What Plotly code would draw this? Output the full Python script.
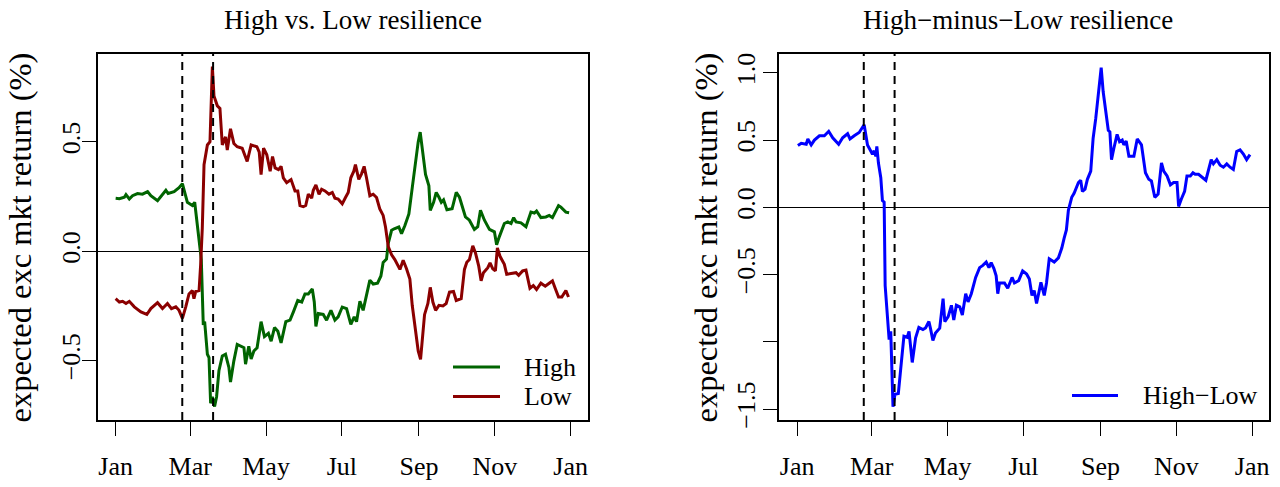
import pandas as pd
import plotly.graph_objects as go

BASE = pd.Timestamp("2020-01-01")

# ---- data (days since 2020-01-01, expected excess market return in %) ----
high_days = [0, 3, 7, 8.3, 11, 13.6, 17.6, 21.6, 25.7, 28.3, 33.7, 37.7, 40.4, 42.2, 47, 51, 53.7,
             57.7, 61.7, 63.6, 64.4, 67.1, 68.9, 70.5, 71.6, 73.8, 75.1, 76.4, 77.8, 79.6, 81.2,
             83.1, 85.8, 88.4, 91.1, 92.4, 95.1, 97.8, 100.5, 103.2, 104.5, 107.1, 109, 111.2,
             113.8, 117, 119.7, 122.9, 125.1, 127.8, 130.5, 133.1, 136.9, 140.3, 143, 146.5,
             149.7, 152.3, 155, 158.2, 159.8, 161.1, 163, 167, 169.7, 173.2, 176.4, 179, 182.3,
             185.8, 189.2, 191.9, 193.8, 196.5, 199.1, 201.8, 204.5, 207.2, 210.7, 213.4, 215.2,
             217.9, 219.3, 222, 224.1, 227.8, 230, 232.7, 235.9, 238.6, 241.3, 243.4, 245,
             246.7, 249.3, 252, 253.1, 255.8, 257.9, 260.1, 262, 263.8, 266.5, 270.7, 274,
             276.6, 279.3, 281.4, 284.6, 288.6, 291.3, 293.5, 296.7, 300.7, 304.7, 306.5, 308.7,
             312.7, 315.4, 318.1, 320.2, 322.1, 326.1, 330.1, 334.1, 336.8, 338.6, 342.1, 346.1,
             348.8, 351.4, 354.1, 356.3, 358.2, 362.2, 364.8]
high_vals = [0.242, 0.240, 0.247, 0.259, 0.239, 0.254, 0.264, 0.261, 0.273, 0.254, 0.231, 0.261,
             0.279, 0.264, 0.273, 0.291, 0.309, 0.224, 0.209, 0.224, 0.187, 0.067, -0.037, -0.337,
             -0.322, -0.471, -0.486, -0.695, -0.665, -0.710, -0.665, -0.546, -0.479, -0.471,
             -0.531, -0.598, -0.501, -0.426, -0.434, -0.441, -0.516, -0.434, -0.493, -0.456,
             -0.441, -0.322, -0.390, -0.375, -0.411, -0.349, -0.366, -0.419, -0.322, -0.315,
             -0.277, -0.225, -0.232, -0.195, -0.195, -0.172, -0.232, -0.344, -0.285, -0.289,
             -0.315, -0.270, -0.315, -0.300, -0.255, -0.262, -0.334, -0.300, -0.322, -0.229,
             -0.270, -0.195, -0.132, -0.150, -0.146, -0.113, -0.051, -0.036, 0.036, 0.096, 0.103,
             0.111, 0.081, 0.118, 0.171, 0.290, 0.410, 0.500, 0.545, 0.471, 0.351, 0.299, 0.187,
             0.224, 0.269, 0.247, 0.224, 0.235, 0.190, 0.195, 0.269, 0.247, 0.202, 0.157, 0.142,
             0.100, 0.112, 0.187, 0.142, 0.100, 0.089, 0.030, 0.067, 0.127, 0.134, 0.127, 0.154,
             0.134, 0.130, 0.112, 0.179, 0.175, 0.184, 0.154, 0.157, 0.164, 0.154, 0.187, 0.209,
             0.202, 0.179, 0.176]

low_days = [0, 3, 5.6, 8.3, 11, 15, 20.3, 25.1, 28.3, 33.7, 37.7, 41.7, 44.9, 48.4, 51, 53.7,
            56.4, 59, 61.7, 63, 64.4, 67.1, 68.4, 69.7, 71.1, 73.8, 75.9, 77.8, 79.1, 81.8, 83.9,
            85.8, 88.4, 89.8, 92.4, 95.1, 97.8, 101.8, 105.8, 109, 113.6, 115.5, 117, 119, 121.6,
            124.3, 126.2, 128.3, 131, 133.1, 134.9, 137.6, 141.1, 144.3, 146.5, 148.3, 151,
            152.9, 155, 157.7, 159, 161.1, 163.6, 165.7, 168.4, 171.6, 174.3, 176.4, 179, 182.3,
            184.9, 187.1, 189.2, 191.6, 192.9, 195.6, 197.8, 199.9, 201.8, 204.5, 207.2, 209.9,
            212.5, 215.2, 217.1, 219.3, 222, 224.6, 228.7, 231.3, 234, 236.7, 238.6, 240.7,
            243.4, 245.3, 246.5, 248.5, 251.2, 253.1, 255.2, 257.4, 260.1, 263.3, 265.9, 268.6,
            271.8, 274, 278, 280.6, 282.5, 284.6, 287.3, 289.5, 292.1, 294, 295.9, 299.4, 301.2,
            303.4, 305.5, 307.1, 309.2, 312.7, 314.6, 318.1, 322.1, 324.2, 327.4, 330.1, 333.3,
            336, 338.6, 342.1, 345.6, 348.8, 351.4, 353.6, 356.3, 358.9, 362.2, 364.3]
low_vals = [-0.217, -0.232, -0.229, -0.239, -0.229, -0.254, -0.277, -0.289, -0.262, -0.235,
            -0.262, -0.239, -0.262, -0.254, -0.270, -0.307, -0.254, -0.195, -0.180, -0.217,
            -0.184, -0.180, -0.060, 0.105, 0.396, 0.486, 0.501, 0.845, 0.710, 0.665, 0.653,
            0.486, 0.523, 0.463, 0.560, 0.493, 0.478, 0.471, 0.411, 0.486, 0.478, 0.453, 0.351,
            0.471, 0.441, 0.366, 0.433, 0.381, 0.373, 0.388, 0.336, 0.314, 0.328, 0.276, 0.276,
            0.209, 0.204, 0.209, 0.261, 0.243, 0.279, 0.303, 0.261, 0.284, 0.276, 0.261, 0.269,
            0.243, 0.239, 0.217, 0.246, 0.269, 0.336, 0.366, 0.396, 0.329, 0.354, 0.388, 0.336,
            0.254, 0.261, 0.246, 0.194, 0.164, 0.111, 0.022, -0.016, -0.038, -0.083, -0.041,
            -0.080, -0.127, -0.247, -0.337, -0.456, -0.494, -0.400, -0.290, -0.239, -0.165,
            -0.232, -0.270, -0.247, -0.250, -0.239, -0.187, -0.184, -0.225, -0.217, -0.083,
            -0.050, -0.038, 0.025, -0.008, -0.068, -0.135, -0.098, -0.075, -0.053, -0.080,
            -0.090, 0.015, -0.023, -0.060, -0.105, -0.101, -0.098, -0.110, -0.090, -0.086,
            -0.169, -0.157, -0.175, -0.146, -0.160, -0.146, -0.135, -0.169, -0.209, -0.209,
            -0.180, -0.209]

hml_days = [0.6, 3.3, 7.3, 8.6, 11.3, 13.9, 17.9, 21.9, 25.4, 28.6, 33.4, 36.6, 40.6, 42.5,
            45.9, 49.9, 53.9, 56.6, 60.6, 62, 63.3, 64.1, 65.4, 67.3, 68.6, 70, 70.8, 74, 75.3,
            77.1, 78.7, 81.4, 83.3, 85.9, 88.6, 90, 92.6, 95.3, 97.9, 101.2, 103.3, 106, 107.3,
            109.2, 111.3, 114.7, 117.4, 118.8, 121.5, 124.1, 126, 128.1, 130.8, 132.9, 135.6,
            137.5, 140.1, 143.6, 146.8, 149.4, 152.1, 154.3, 156.1, 158.3, 160.1, 161.4, 162.8,
            166.8, 169.4, 172.9, 174.8, 178.2, 181.4, 184.6, 186.8, 188.9, 190.7, 192.6, 194.8,
            196.1, 198.8, 200.6, 202.8, 206.8, 210.2, 212.9, 214.8, 216.6, 218.2, 220.9, 222.8,
            224.7, 226.3, 228.1, 229.5, 231.6, 233.5, 236.2, 238.1, 240.2, 242.4, 244.6, 246.2,
            248.1, 250.3, 251.6, 252.9, 254.8, 257.4, 259.4, 261.5, 262.8, 264.7, 266.9, 270.9,
            273.6, 277, 280.2, 282.9, 285, 287.7, 290.4, 293.1, 294.9, 297.6, 300.3, 302.9,
            305.6, 306.9, 309.1, 311.7, 313.6, 316.3, 318.4, 320.2, 322.9, 326.1, 328.8, 333.1,
            334.9, 337.6, 340.3, 342.9, 345.6, 348.3, 350.9, 353.6, 356.3, 359, 361.6, 364.3]
hml_vals = [0.460, 0.477, 0.470, 0.509, 0.465, 0.501, 0.533, 0.533, 0.566, 0.518, 0.470, 0.518,
            0.548, 0.509, 0.533, 0.557, 0.615, 0.465, 0.396, 0.421, 0.380, 0.453, 0.330, 0.221,
            0.051, 0.039, -0.581, -0.983, -0.922, -1.482, -1.389, -1.384, -1.202, -0.958,
            -0.966, -0.922, -1.153, -0.970, -0.892, -0.909, -0.897, -0.849, -0.902, -0.990,
            -0.934, -0.898, -0.679, -0.849, -0.813, -0.728, -0.838, -0.728, -0.740, -0.801,
            -0.642, -0.703, -0.642, -0.521, -0.448, -0.431, -0.406, -0.448, -0.411, -0.455,
            -0.509, -0.642, -0.562, -0.562, -0.601, -0.521, -0.562, -0.545, -0.472, -0.496,
            -0.533, -0.655, -0.618, -0.715, -0.618, -0.557, -0.655, -0.562, -0.382, -0.406,
            -0.375, -0.302, -0.229, -0.168, -0.022, 0.075, 0.105, 0.148, 0.185, 0.202, 0.119,
            0.136, 0.209, 0.270, 0.513, 0.660, 0.879, 1.040, 0.860, 0.720, 0.574, 0.562, 0.355,
            0.440, 0.543, 0.489, 0.501, 0.465, 0.494, 0.380, 0.380, 0.509, 0.465, 0.258, 0.209,
            0.197, 0.075, 0.100, 0.331, 0.270, 0.234, 0.168, 0.185, 0.185, 0.007, 0.063, 0.119,
            0.234, 0.234, 0.258, 0.246, 0.246, 0.221, 0.202, 0.355, 0.324, 0.355, 0.314, 0.299,
            0.324, 0.299, 0.282, 0.416, 0.428, 0.397, 0.355, 0.392]

event_days = [53.6, 78.4]
month_ticks = ["2020-01-01", "2020-03-01", "2020-05-01", "2020-07-01", "2020-09-01",
               "2020-11-01", "2021-01-01"]
month_labels = ["Jan", "Mar", "May", "Jul", "Sep", "Nov", "Jan"]
left_yticks = [-0.5, 0.0, 0.5]
left_ylabels = ["\u22120.5", "0.0", "0.5"]
right_yticks = [-1.5, -1.0, -0.5, 0.0, 0.5, 1.0]
right_ylabels = ["\u22121.5", "", "\u22120.5", "0.0", "0.5", "1.0"]
series_names = ["High", "Low", "High\u2212Low"]
series_colors = ["#006400", "#8B0000", "#0000FF"]


def to_dates(days):
    return [BASE + pd.Timedelta(days=d) for d in days]


W, H = 1280, 487
FONT = "Liberation Serif"
LW = 3
fig = go.Figure()

panels = [("x", "y", high_days, high_vals, 0), ("x", "y", low_days, low_vals, 1),
          ("x2", "y2", hml_days, hml_vals, 2)]
for xa, ya, dd, vv, i in panels:
    fig.add_trace(go.Scatter(x=to_dates(dd), y=vv, mode="lines", name=series_names[i],
                             line=dict(color=series_colors[i], width=LW), xaxis=xa, yaxis=ya,
                             showlegend=False))

xrange = [BASE - pd.Timedelta(days=14.6), BASE + pd.Timedelta(days=379.6)]
box_top, box_bot = 54, 427
ydom = [(H - box_bot) / H, (H - box_top) / H]
lx = [97.5, 587.5]
rx = [779, 1269]

common_x = dict(range=xrange, tickvals=month_ticks, ticktext=month_labels, ticks="outside",
                ticklen=14, tickwidth=1.3, tickcolor="black", showline=True, mirror=True,
                linecolor="black", linewidth=2, showgrid=False, zeroline=False,
                ticklabelstandoff=8,
                tickfont=dict(family=FONT, size=26, color="black"))
common_y = dict(ticks="outside", ticklen=14, tickwidth=1.3, tickcolor="black", showline=True,
                mirror=True, linecolor="black", linewidth=2, showgrid=False, zeroline=True,
                zerolinecolor="black", zerolinewidth=1, tickangle=-90,
                tickfont=dict(family=FONT, size=26, color="black"))

fig.update_layout(
    width=W, height=H, margin=dict(l=0, r=0, t=0, b=0),
    paper_bgcolor="white", plot_bgcolor="white",
    font=dict(family=FONT, size=26, color="black"),
    xaxis=dict(domain=[lx[0] / W, lx[1] / W], anchor="y", **common_x),
    yaxis=dict(domain=ydom, anchor="x", range=[-0.772, 0.902], tickvals=left_yticks,
               ticktext=left_ylabels, ticklabelstandoff=-9, **common_y),
    xaxis2=dict(domain=[rx[0] / W, rx[1] / W], anchor="y2", **common_x),
    yaxis2=dict(domain=ydom, anchor="x2", range=[-1.582, 1.141], tickvals=right_yticks,
                ticktext=right_ylabels, ticklabelstandoff=-2, **common_y),
    showlegend=False,
)

for xa, ya in (("x", "y"), ("x2", "y2")):
    for d in event_days:
        fig.add_shape(type="line", xref=xa, yref=ya + " domain",
                      x0=BASE + pd.Timedelta(days=d), x1=BASE + pd.Timedelta(days=d),
                      y0=0, y1=1, line=dict(color="black", width=2, dash="8px,6px"))

# legends (R-style, no box)
legend_items = [(0, 453, 500, 522, 373), (1, 453, 500, 522, 403), (2, 1072, 1118, 1141, 402)]
for i, x0, x1, xt, yp in legend_items:
    fig.add_shape(type="line", xref="paper", yref="paper", x0=x0 / W, x1=x1 / W,
                  y0=(H - yp) / H, y1=(H - yp) / H,
                  line=dict(color=series_colors[i], width=LW))
    fig.add_annotation(text=series_names[i], xref="paper", yref="paper", x=xt / W,
                       y=(H - yp) / H, xanchor="left", yanchor="middle", showarrow=False,
                       font=dict(family=FONT, size=26, color="black"))

titles = [("High vs. Low resilience", 353), ("High\u2212minus\u2212Low resilience", 1018)]
for text, xc in titles:
    fig.add_annotation(text=text, xref="paper", yref="paper", x=xc / W,
                       y=(H - 19) / H, xanchor="center", yanchor="middle", showarrow=False,
                       font=dict(family=FONT, size=27, color="black"))

for xc in (20, 706):
    fig.add_annotation(text="expected exc mkt return (%)", xref="paper", yref="paper",
                       x=xc / W, y=(H - 241) / H, textangle=-90,
                       xanchor="center", yanchor="middle", showarrow=False,
                       font=dict(family=FONT, size=32.5, color="black"))

fig.write_html("out.html", config={"displayModeBar": False},
               post_script="document.body.style.margin='0';document.body.style.overflow='hidden';")
